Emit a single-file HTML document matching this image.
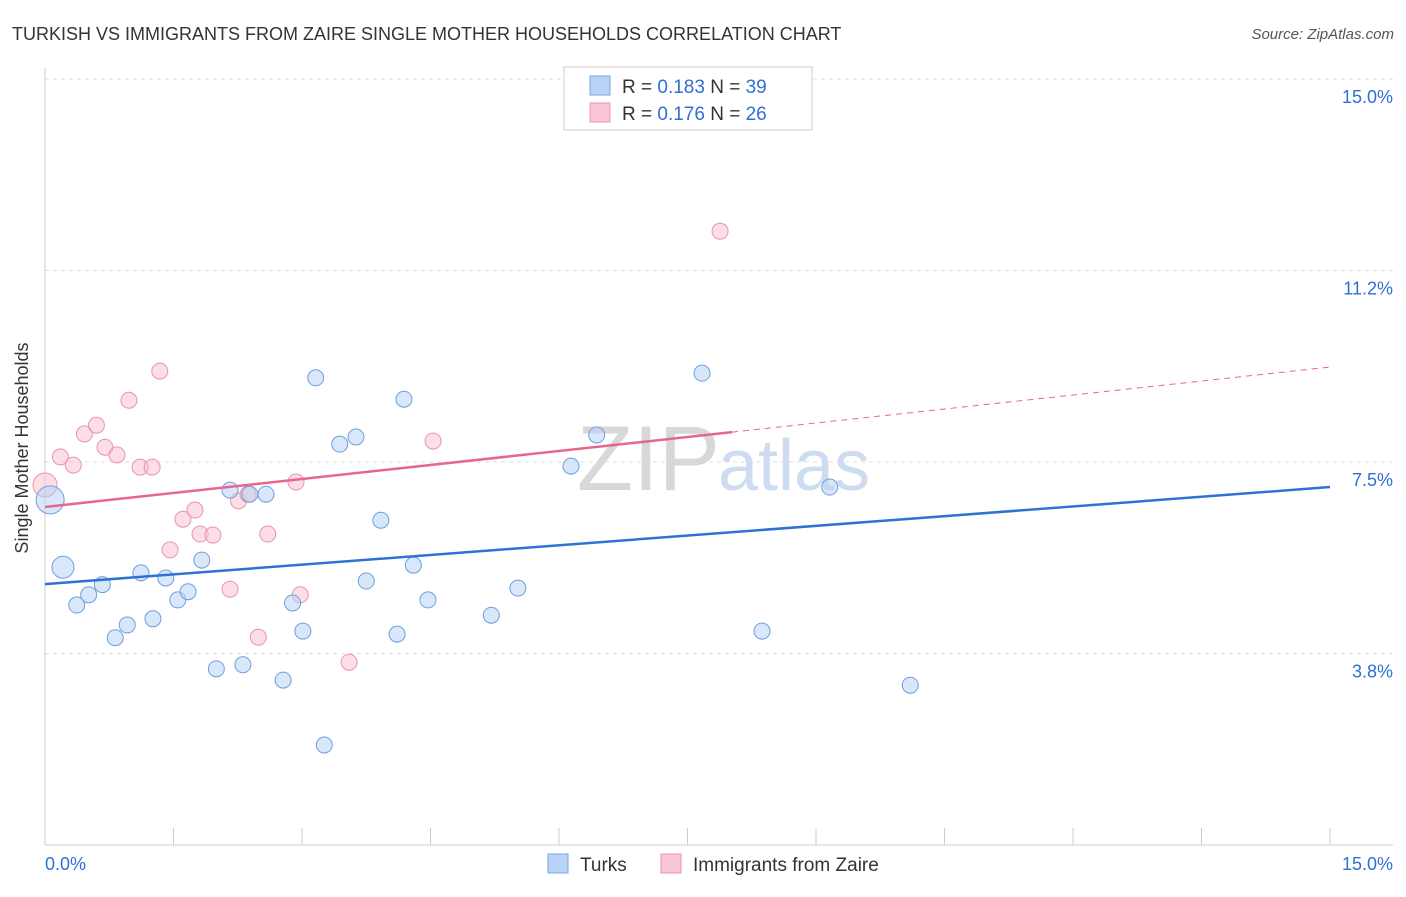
<!DOCTYPE html>
<html><head><meta charset="utf-8"><style>
body{margin:0;background:#fff;font-family:"Liberation Sans",sans-serif;}
svg text{font-family:"Liberation Sans",sans-serif;}
</style></head><body>
<svg id="chart" width="1406" height="892">
<text x="12" y="40" font-size="18" fill="#333">TURKISH VS IMMIGRANTS FROM ZAIRE SINGLE MOTHER HOUSEHOLDS CORRELATION CHART</text>
<text x="1394" y="39" font-size="15" fill="#555" font-style="italic" text-anchor="end">Source: ZipAtlas.com</text>
<g id="grid"></g>
<text x="720" y="490" font-size="92" fill="#d8d8d8" text-anchor="end" font-family="Liberation Serif">ZIP</text>
<text x="718" y="490" font-size="72" fill="#cddcf0">atlas</text>
<text x="36" y="456" font-size="18" fill="#333" text-anchor="middle" transform="rotate(-90 28 456)">Single Mother Households</text>
<g id="marks"></g>
<g>
<rect x="564" y="67" width="248" height="63" fill="#fff" stroke="#ccc"/>
<rect x="590" y="76" width="20" height="19" fill="#b8d3f5" stroke="#7aa7e0"/>
<text x="622" y="93" font-size="19" fill="#333">R = <tspan fill="#2f6fd6">0.183</tspan>   N = <tspan fill="#2f6fd6">39</tspan></text>
<rect x="590" y="103" width="20" height="19" fill="#f9c7d6" stroke="#eb93ad"/>
<text x="622" y="120" font-size="19" fill="#333">R = <tspan fill="#2f6fd6">0.176</tspan>   N = <tspan fill="#2f6fd6">26</tspan></text>
</g>
<g>
<rect x="548" y="854" width="20" height="19" fill="#b8d3f5" stroke="#7aa7e0"/>
<text x="580" y="871" font-size="19" fill="#333">Turks</text>
<rect x="661" y="854" width="20" height="19" fill="#f9c7d6" stroke="#eb93ad"/>
<text x="693" y="871" font-size="19" fill="#333">Immigrants from Zaire</text>
</g>
</svg>
<script>
const yTicks=[15,11.25,7.5,3.75];
const yTickLabels=["15.0%","11.2%","7.5%","3.8%"];
const turksX=[0.06,0.21,0.37,0.51,0.67,0.82,0.96,1.12,1.26,1.41,1.55,1.67,1.83,2.00,2.16,2.31,2.39,2.58,2.78,2.89,3.01,3.16,3.26,3.44,3.63,3.75,3.92,4.11,4.19,4.30,4.47,5.21,5.52,6.14,6.44,7.67,8.37,9.16,10.10];
const turksY=[6.76,5.44,4.70,4.90,5.10,4.06,4.31,5.33,4.43,5.23,4.80,4.96,5.58,3.45,6.95,3.53,6.87,6.87,3.23,4.74,4.19,9.15,1.96,7.85,7.99,5.17,6.36,4.13,8.73,5.48,4.80,4.50,5.03,7.42,8.03,9.24,4.19,7.01,3.13];
const zaireX=[0,0.18,0.33,0.46,0.60,0.70,0.84,0.98,1.11,1.25,1.34,1.46,1.61,1.75,1.81,1.96,2.16,2.26,2.37,2.49,2.60,2.93,2.98,3.55,4.53,7.88];
const zaireY=[7.05,7.60,7.44,8.05,8.22,7.79,7.64,8.71,7.40,7.40,9.28,5.78,6.38,6.56,6.09,6.07,5.01,6.74,6.87,4.07,6.09,7.11,4.90,3.58,7.91,12.02];
const turksTrend=[5.11,7.01];
const zaireTrend=[6.62,9.36];
const zaireSolidEnd=8.02;
const NS="http://www.w3.org/2000/svg";
const xs=v=>45+v/15*1285;
const ys=v=>79+(15-v)*51.07;
function mk(tag,attrs,parent){const e=document.createElementNS(NS,tag);for(const k in attrs)e.setAttribute(k,attrs[k]);parent.appendChild(e);return e;}
const grid=document.getElementById('grid');
yTicks.forEach((t,i)=>{
 const l=mk('line',{x1:45,x2:1393,y1:ys(t),y2:ys(t),stroke:'#ddd','stroke-dasharray':'4 4'},grid);
 
 
 const tx=mk('text',{x:1393,y:ys(t)+24,'font-size':18,fill:'#2f6fd6','text-anchor':'end'},grid);
 tx.textContent=yTickLabels[i];
 
 
});
const ax=mk('line',{x1:45,x2:45,y1:68,y2:845,stroke:'#ccc'},grid);


const bx=mk('line',{x1:45,x2:1393,y1:845,y2:845,stroke:'#ccc'},grid);


for(let i=0;i<=10;i++){const t=mk('line',{x1:xs(i*1.5),x2:xs(i*1.5),y1:828,y2:845,stroke:'#ccc'},grid);
 
 }
[[0,'0.0%','start',45],[15,'15.0%','end',1393]].forEach(d=>{const t=mk('text',{x:d[3],y:870,'font-size':18,fill:'#2f6fd6','text-anchor':d[2]},grid);t.textContent=d[1];
 
 });
const marks=document.getElementById('marks');
zaireX.forEach((x,i)=>{const c=mk('circle',{cx:xs(x),cy:ys(zaireY[i]),r:i==0?12:8,fill:'rgba(249,190,208,0.5)',stroke:'#eb93ad','stroke-width':1},marks);
 
 });
turksX.forEach((x,i)=>{const c=mk('circle',{cx:xs(x),cy:ys(turksY[i]),r:i==0?14:(i==1?11:8),fill:'rgba(184,211,245,0.55)',stroke:'#6f9fdc','stroke-width':1},marks);
 
 });
const zl=(v)=>zaireTrend[0]+(zaireTrend[1]-zaireTrend[0])*v/15;
const p1=mk('line',{x1:xs(0),y1:ys(zl(0)),x2:xs(zaireSolidEnd),y2:ys(zl(zaireSolidEnd)),stroke:'#e8658f','stroke-width':2.5},marks);


const p2=mk('line',{x1:xs(zaireSolidEnd),y1:ys(zl(zaireSolidEnd)),x2:xs(15),y2:ys(zl(15)),stroke:'#e8658f','stroke-width':1,'stroke-dasharray':'6 5'},marks);


const b1=mk('line',{x1:xs(0),y1:ys(turksTrend[0]),x2:xs(15),y2:ys(turksTrend[1]),stroke:'#2f72d6','stroke-width':2.5},marks);


</script>
</body></html>
